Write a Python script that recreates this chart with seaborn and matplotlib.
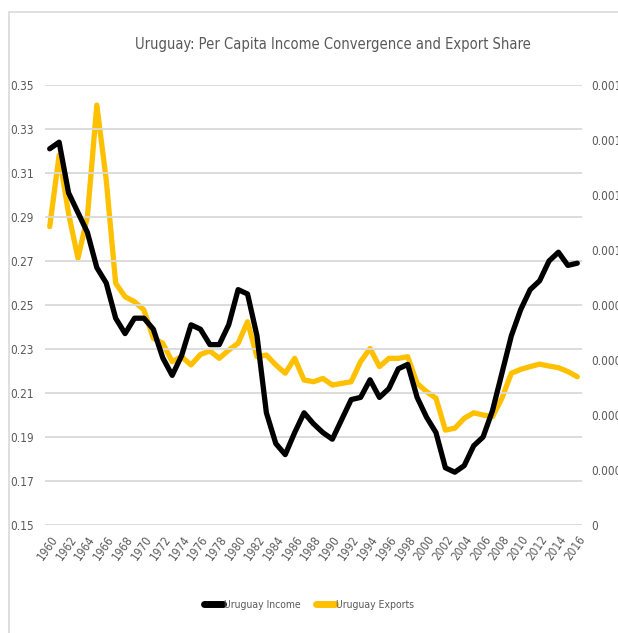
import matplotlib
matplotlib.use("Agg")
import matplotlib.pyplot as plt
import seaborn as sns
import pandas as pd
from matplotlib.patches import Rectangle
from matplotlib.lines import Line2D

# Data
years = list(range(1960, 2017))
income = [
    0.321, 0.324, 0.301, 0.292, 0.283, 0.267, 0.260, 0.244, 0.237, 0.244,
    0.244, 0.239, 0.226, 0.218, 0.227, 0.241, 0.239, 0.232, 0.232, 0.241,
    0.257, 0.255, 0.236, 0.201, 0.187, 0.182, 0.192, 0.201, 0.196, 0.192,
    0.189, 0.198, 0.207, 0.208, 0.216, 0.208, 0.212, 0.221, 0.223, 0.208,
    0.199, 0.192, 0.176, 0.174, 0.177, 0.186, 0.190, 0.202, 0.219, 0.236,
    0.248, 0.257, 0.261, 0.270, 0.274, 0.268, 0.269,
]
exports = [
    0.001085, 0.001345, 0.001133, 0.000970, 0.001121, 0.001527, 0.001255, 0.000879, 0.000830, 0.000812,
    0.000782, 0.000679, 0.000661, 0.000594, 0.000612, 0.000582, 0.000620, 0.000633, 0.000606, 0.000636,
    0.000661, 0.000739, 0.000612, 0.000618, 0.000582, 0.000552, 0.000606, 0.000527, 0.000521, 0.000533,
    0.000509, 0.000515, 0.000521, 0.000594, 0.000642, 0.000576, 0.000606, 0.000606, 0.000612, 0.000515,
    0.000485, 0.000461, 0.000345, 0.000352, 0.000388, 0.000408, 0.000400, 0.000394, 0.000461, 0.000552,
    0.000566, 0.000576, 0.000585, 0.000578, 0.000572, 0.000558, 0.000539,
]
left_ticks = [0.15, 0.17, 0.19, 0.21, 0.23, 0.25, 0.27, 0.29, 0.31, 0.33, 0.35]
right_ticks = [0, 0.0002, 0.0004, 0.0006, 0.0008, 0.001, 0.0012, 0.0014, 0.0016]
right_labels = ["0", "0.0002", "0.0004", "0.0006", "0.0008", "0.001", "0.0012", "0.0014", "0.0016"]

df = pd.DataFrame({"Year": years, "Uruguay Income": income, "Uruguay Exports": exports})

sns.set_theme(style="white")
plt.rcParams["font.family"] = ["DejaVu Sans"]
plt.rcParams["font.stretch"] = "condensed"

W, H = 618, 633
fig = plt.figure(figsize=(W / 100, H / 100), dpi=100)
ax = fig.add_axes([45 / W, 1 - 525 / H, (582 - 45) / W, (525 - 85) / H])
ax2 = ax.twinx()

grey = "#595959"
black = "#000000"
gold = "#FFC000"

sns.lineplot(data=df, x="Year", y="Uruguay Exports", ax=ax2, color=gold, linewidth=3.8,
             legend=False, zorder=2)
sns.lineplot(data=df, x="Year", y="Uruguay Income", ax=ax, color=black, linewidth=3.8,
             legend=False, zorder=3)

# income line on top of exports
ax.set_zorder(ax2.get_zorder() + 1)
ax.patch.set_visible(False)

ax.set_xlim(1959.5, 2016.5)
ax.set_ylim(0.15, 0.35)
ax2.set_ylim(0, 0.0016)

ax.set_yticks(left_ticks)
ax.set_yticklabels([f"{t:.2f}" for t in left_ticks])
ax2.set_yticks(right_ticks)
ax2.set_yticklabels(right_labels)
ax.set_xticks(years[::2])
ax.set_xticklabels([str(y) for y in years[::2]], rotation=55, ha="right",
                   rotation_mode="anchor")

for a in (ax, ax2):
    a.set_xlabel("")
    a.set_ylabel("")
    for s in a.spines.values():
        s.set_visible(False)
    a.tick_params(axis="both", length=0, colors=grey, labelsize=8.5)
ax.tick_params(axis="y", pad=8)
ax2.tick_params(axis="y", pad=7)
ax.tick_params(axis="x", pad=6, labelsize=8.5)

ax.grid(axis="y", color="#d9d9d9", linewidth=1.3)
ax.grid(axis="x", visible=False)
ax.set_axisbelow(True)

fig.text(0.538, 1 - 45 / H, "Uruguay: Per Capita Income Convergence and Export Share",
         ha="center", va="center", fontsize=10.5, color=grey)

handles = [Line2D([0], [0], color=black, linewidth=5),
           Line2D([0], [0], color=gold, linewidth=5)]
fig.legend(handles, ["Uruguay Income", "Uruguay Exports"], loc="center",
           bbox_to_anchor=(0.5, 1 - 605 / H), ncol=2, frameon=False,
           fontsize=7.5, handlelength=1.9, handletextpad=0.1, columnspacing=1.4,
           labelcolor=grey)

# chart-area border, partly outside the image like the reference
fig.patches.append(Rectangle((9 / W, -0.1), 1.2, 1 - 12 / H + 0.1, transform=fig.transFigure,
                             fill=False, edgecolor="#d9d9d9", linewidth=1.2))

fig.savefig("out.png", dpi=100)
